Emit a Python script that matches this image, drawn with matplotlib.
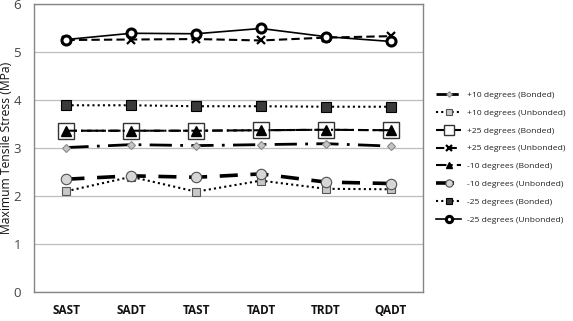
import matplotlib
matplotlib.use("Agg")
import matplotlib.pyplot as plt

categories = ["SAST", "SADT", "TAST", "TADT", "TRDT", "QADT"]
p10_bonded = [3.01, 3.07, 3.05, 3.07, 3.09, 3.04]
p10_unbonded = [2.10, 2.40, 2.09, 2.32, 2.15, 2.14]
p25_bonded = [3.36, 3.36, 3.36, 3.37, 3.38, 3.37]
p25_unbonded = [5.25, 5.26, 5.27, 5.24, 5.30, 5.33]
m10_bonded = [3.36, 3.36, 3.36, 3.37, 3.38, 3.37]
m10_unbonded = [2.35, 2.42, 2.39, 2.46, 2.29, 2.26]
m25_bonded = [3.89, 3.89, 3.87, 3.87, 3.86, 3.86]
m25_unbonded = [5.26, 5.39, 5.38, 5.49, 5.32, 5.22]
y_ticks = [0, 1, 2, 3, 4, 5, 6]

plt.rcParams['font.family'] = ['Open Sans', 'DejaVu Sans']

fig = plt.figure(figsize=(5.73, 3.21), dpi=100)
ax = fig.add_axes([34/573, 29/321, (423-34)/573, (292-4)/321])
x = list(range(len(categories)))

series = [
    ("+10 degrees (Bonded)", p10_bonded, dict(color="black", lw=2.0, ls=(0, (8, 3, 1, 3)), marker="D", ms=4,
                                              mfc="#c4c4c4", mec="#8a8a8a", mew=0.8)),
    ("+10 degrees (Unbonded)", p10_unbonded, dict(color="black", lw=1.5, ls=(0, (1, 1.5)), marker="s", ms=6,
                                                  mfc="#c8c8c8", mec="#555555", mew=0.8)),
    ("+25 degrees (Bonded)", p25_bonded, dict(color="black", lw=1.5, ls=(0, (5, 2)), marker="s", ms=11,
                                              mfc="white", mec="#333333", mew=1.0)),
    ("+25 degrees (Unbonded)", p25_unbonded, dict(color="black", lw=1.5, ls=(0, (4, 2)), marker="x", ms=5.5,
                                                  mec="black", mew=1.6)),
    ("-10 degrees (Bonded)", m10_bonded, dict(color="black", lw=1.5, ls=(0, (5, 2, 1, 2)), marker="^", ms=6.5,
                                              mfc="black", mec="black")),
    ("-10 degrees (Unbonded)", m10_unbonded, dict(color="black", lw=2.6, ls=(0, (5, 3.5)), marker="o", ms=7.5,
                                                  mfc="#d6d6d6", mec="#505050", mew=0.8)),
    ("-25 degrees (Bonded)", m25_bonded, dict(color="black", lw=1.5, ls=(0, (1, 1.5)), marker="s", ms=6.5,
                                              mfc="#3a3a3a", mec="black", mew=0.8)),
    ("-25 degrees (Unbonded)", m25_unbonded, dict(color="black", lw=1.2, ls="-", marker="o", ms=6.5,
                                                  mfc="white", mec="black", mew=2.2)),
]

for label, vals, kw in series:
    ax.plot(x, vals, label=label, **kw)

ax.set_xlim(-0.5, len(categories) - 0.5)
ax.set_ylim(0, 6)
ax.set_yticks(y_ticks)
ax.set_xticks(x)
ax.set_xticklabels(categories, fontsize=8.5, fontweight="bold", color="#111111")
ax.tick_params(axis="y", labelsize=9.5, colors="#444444", length=0, pad=9.5)
ax.tick_params(axis="x", length=0, pad=9)
ax.grid(axis="y", color="#bdbdbd", lw=0.9)
ax.set_axisbelow(True)
for s in ax.spines.values():
    s.set_color("#858585")
    s.set_linewidth(1.0)
ax.set_ylabel("Maximum Tensile Stress (MPa)", fontsize=8.7, color="#111111", labelpad=0)
ax.yaxis.set_label_coords(-0.054, 0.5)

# fit legend font so that the longest label is ~97 px wide, like the reference
renderer = fig.canvas.get_renderer()
probe = fig.text(0, 0, "+25 degrees (Unbonded)", fontsize=10)
w10 = probe.get_window_extent(renderer).width
probe.remove()
leg_size = 10 * 97.0 / w10
row_px = 17.9
row_pt = row_px * 72 / 100
spacing = max(0.1, (row_pt - 1.17 * leg_size) / leg_size) + 2.0 * 0.72 / leg_size

leg = ax.legend(loc="center left", bbox_to_anchor=(1.025, 0.467), frameon=False, fontsize=leg_size,
                handlelength=2.6 * 7.0 / leg_size, labelspacing=spacing,
                handletextpad=0.55 * 7.0 / leg_size, borderaxespad=0, markerscale=0.7)
for t in leg.get_texts():
    t.set_color("#222222")

fig.savefig("out.png", dpi=100)
